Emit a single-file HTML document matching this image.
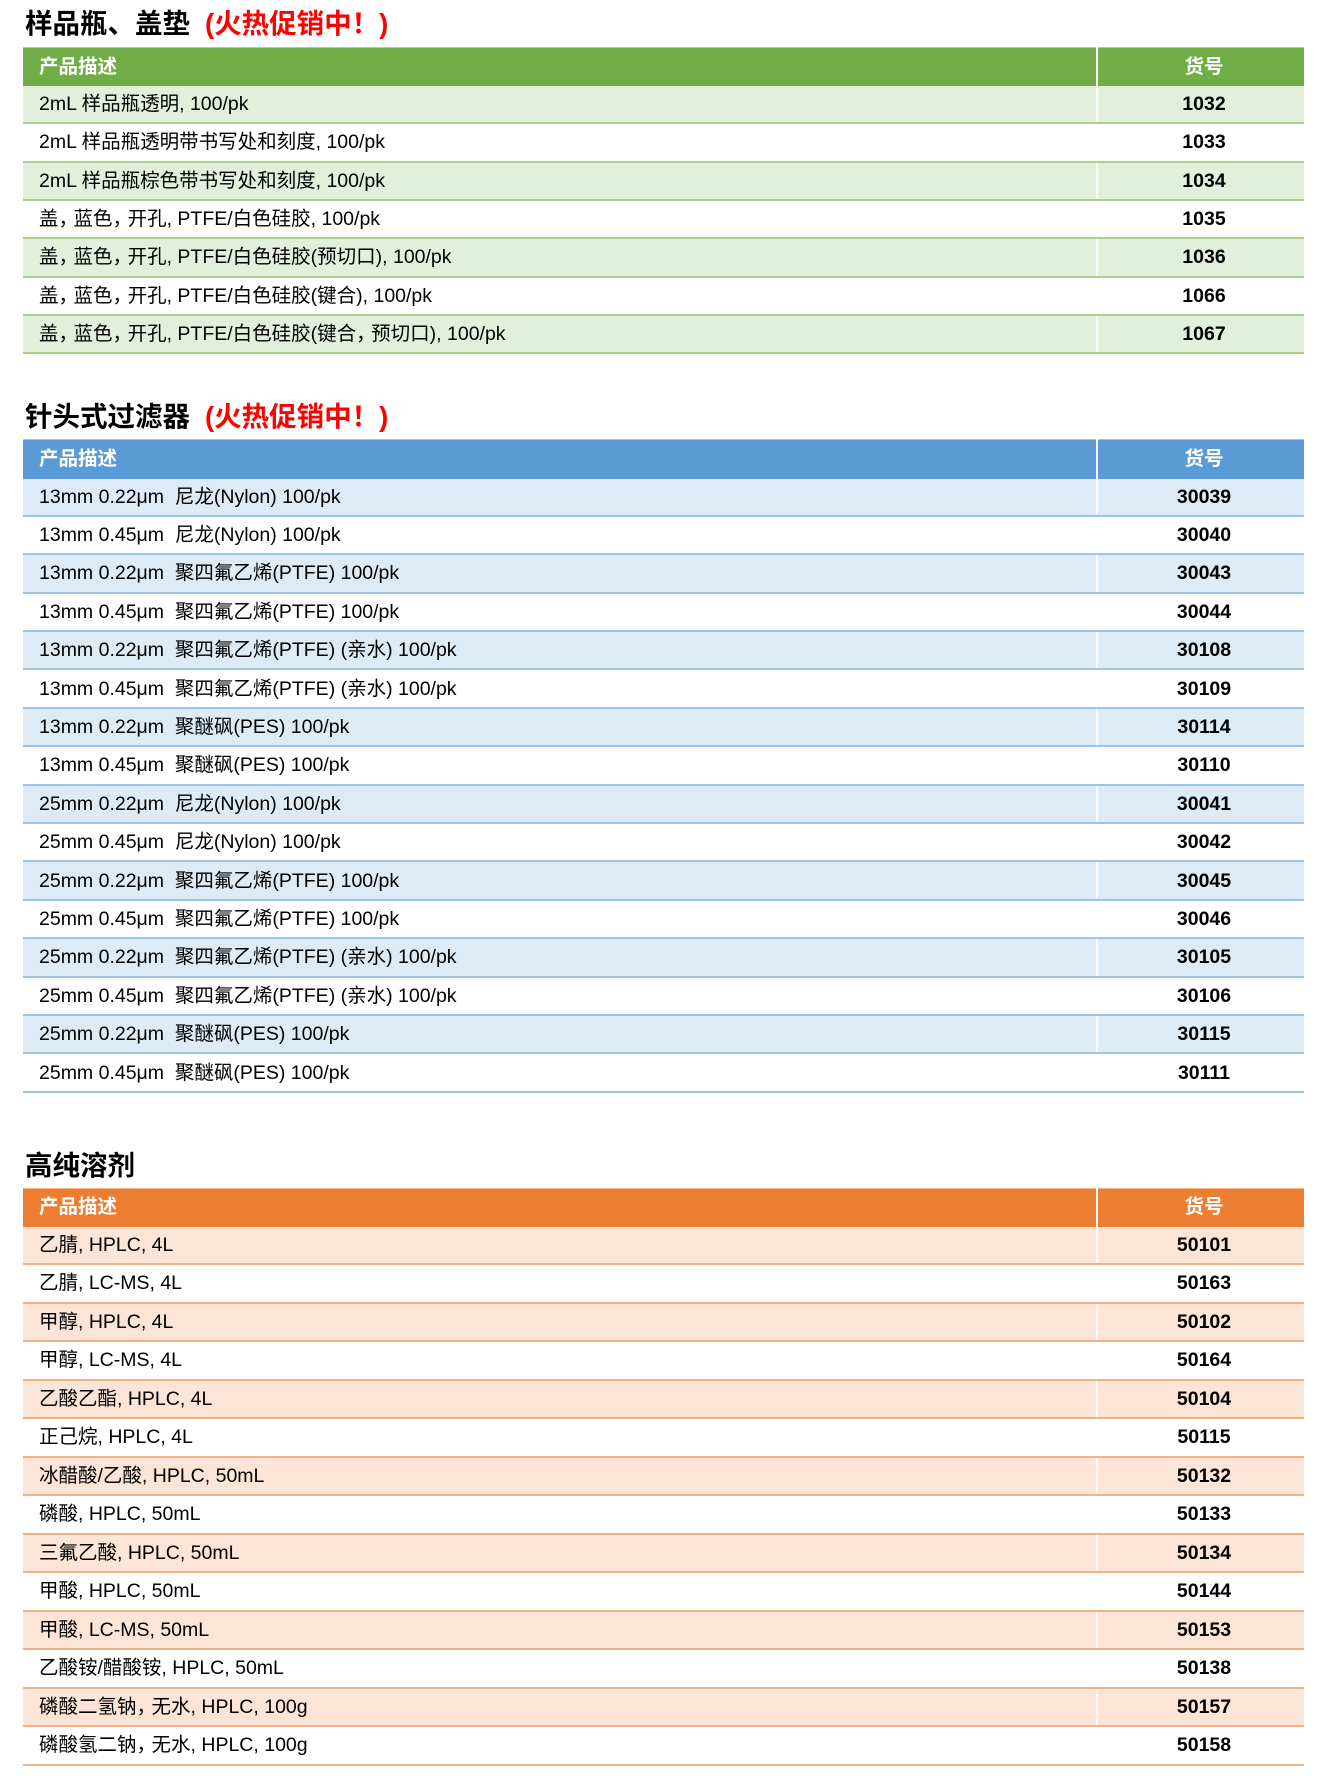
<!DOCTYPE html>
<html>
<head>
<meta charset="utf-8">
<style>
  html,body{margin:0;padding:0;background:#fff;}
  body{width:1320px;height:1781px;position:relative;overflow:hidden;
    font-family:"Liberation Sans","Noto Sans CJK SC",sans-serif;color:#000;}
  .title{position:absolute;left:25px;font-size:27.5px;line-height:30px;white-space:nowrap;font-weight:bold;}
  .title .red{color:#ff0000;font-weight:bold;margin-left:15px;}
  .tbl{position:absolute;left:23px;width:1281px;}
  .row{display:flex;box-sizing:border-box;font-size:19.5px;line-height:22px;}
  .row .d{flex:0 0 1073px;box-sizing:border-box;padding-left:16px;display:flex;align-items:center;white-space:pre;line-height:22px;}
  .row .n{flex:0 0 208px;box-sizing:border-box;border-left:2px solid #fff;display:flex;align-items:center;justify-content:center;padding-left:6px;font-weight:bold;line-height:22px;}
  .c{letter-spacing:-4.5px;}
  .hdr{color:#fff;font-weight:bold;}
  .hdr .d{font-weight:bold;}
  /* green */
  .g .hdr{background:#70ad47;box-shadow:inset 0 1px 0 #a9d08e;}
  .g .row.b{border-bottom:2px solid #a9d08e;}
  .g .row.b:nth-child(even){background:#e2efda;}
  /* blue */
  .bl .hdr{background:#5b9bd5;box-shadow:inset 0 1px 0 #9dc3e6;}
  .bl .row.b{border-bottom:2px solid #9dc3e6;}
  .bl .row.b:nth-child(even){background:#ddebf7;}
  /* orange */
  .o .hdr{background:#ed7d31;box-shadow:inset 0 1px 0 #f4b183;}
  .o .row.b{border-bottom:2px solid #f4b183;}
  .o .row.b:nth-child(even){background:#fce4d6;}
  .g .row.b{height:38.33px;}
  .bl .row.b{height:38.4px;}
  .o .row.b{height:38.5px;}
</style>
</head>
<body>

<div class="title" style="top:9px;">样品瓶、盖垫<span class="red">(火热促销中！)</span></div>
<div class="tbl g" style="top:47px;">
  <div class="row hdr" style="height:39px;"><div class="d">产品描述</div><div class="n">货号</div></div>
  <div class="row b"><div class="d">2mL 样品瓶透明, 100/pk</div><div class="n">1032</div></div>
  <div class="row b"><div class="d">2mL 样品瓶透明带书写处和刻度, 100/pk</div><div class="n">1033</div></div>
  <div class="row b"><div class="d">2mL 样品瓶棕色带书写处和刻度, 100/pk</div><div class="n">1034</div></div>
  <div class="row b"><div class="d">盖<span class="c">，</span>蓝色<span class="c">，</span>开孔, PTFE/白色硅胶, 100/pk</div><div class="n">1035</div></div>
  <div class="row b"><div class="d">盖<span class="c">，</span>蓝色<span class="c">，</span>开孔, PTFE/白色硅胶(预切口), 100/pk</div><div class="n">1036</div></div>
  <div class="row b"><div class="d">盖<span class="c">，</span>蓝色<span class="c">，</span>开孔, PTFE/白色硅胶(键合), 100/pk</div><div class="n">1066</div></div>
  <div class="row b"><div class="d">盖<span class="c">，</span>蓝色<span class="c">，</span>开孔, PTFE/白色硅胶(键合<span class="c">，</span>预切口), 100/pk</div><div class="n">1067</div></div>
</div>

<div class="title" style="top:402px;">针头式过滤器<span class="red">(火热促销中！)</span></div>
<div class="tbl bl" style="top:439px;">
  <div class="row hdr" style="height:39.5px;"><div class="d">产品描述</div><div class="n">货号</div></div>
  <div class="row b"><div class="d">13mm 0.22μm  尼龙(Nylon) 100/pk</div><div class="n">30039</div></div>
  <div class="row b"><div class="d">13mm 0.45μm  尼龙(Nylon) 100/pk</div><div class="n">30040</div></div>
  <div class="row b"><div class="d">13mm 0.22μm  聚四氟乙烯(PTFE) 100/pk</div><div class="n">30043</div></div>
  <div class="row b"><div class="d">13mm 0.45μm  聚四氟乙烯(PTFE) 100/pk</div><div class="n">30044</div></div>
  <div class="row b"><div class="d">13mm 0.22μm  聚四氟乙烯(PTFE) (亲水) 100/pk</div><div class="n">30108</div></div>
  <div class="row b"><div class="d">13mm 0.45μm  聚四氟乙烯(PTFE) (亲水) 100/pk</div><div class="n">30109</div></div>
  <div class="row b"><div class="d">13mm 0.22μm  聚醚砜(PES) 100/pk</div><div class="n">30114</div></div>
  <div class="row b"><div class="d">13mm 0.45μm  聚醚砜(PES) 100/pk</div><div class="n">30110</div></div>
  <div class="row b"><div class="d">25mm 0.22μm  尼龙(Nylon) 100/pk</div><div class="n">30041</div></div>
  <div class="row b"><div class="d">25mm 0.45μm  尼龙(Nylon) 100/pk</div><div class="n">30042</div></div>
  <div class="row b"><div class="d">25mm 0.22μm  聚四氟乙烯(PTFE) 100/pk</div><div class="n">30045</div></div>
  <div class="row b"><div class="d">25mm 0.45μm  聚四氟乙烯(PTFE) 100/pk</div><div class="n">30046</div></div>
  <div class="row b"><div class="d">25mm 0.22μm  聚四氟乙烯(PTFE) (亲水) 100/pk</div><div class="n">30105</div></div>
  <div class="row b"><div class="d">25mm 0.45μm  聚四氟乙烯(PTFE) (亲水) 100/pk</div><div class="n">30106</div></div>
  <div class="row b"><div class="d">25mm 0.22μm  聚醚砜(PES) 100/pk</div><div class="n">30115</div></div>
  <div class="row b"><div class="d">25mm 0.45μm  聚醚砜(PES) 100/pk</div><div class="n">30111</div></div>
</div>

<div class="title" style="top:1151px;">高纯溶剂</div>
<div class="tbl o" style="top:1188px;">
  <div class="row hdr" style="height:38.7px;"><div class="d">产品描述</div><div class="n">货号</div></div>
  <div class="row b"><div class="d">乙腈, HPLC, 4L</div><div class="n">50101</div></div>
  <div class="row b"><div class="d">乙腈, LC-MS, 4L</div><div class="n">50163</div></div>
  <div class="row b"><div class="d">甲醇, HPLC, 4L</div><div class="n">50102</div></div>
  <div class="row b"><div class="d">甲醇, LC-MS, 4L</div><div class="n">50164</div></div>
  <div class="row b"><div class="d">乙酸乙酯, HPLC, 4L</div><div class="n">50104</div></div>
  <div class="row b"><div class="d">正己烷, HPLC, 4L</div><div class="n">50115</div></div>
  <div class="row b"><div class="d">冰醋酸/乙酸, HPLC, 50mL</div><div class="n">50132</div></div>
  <div class="row b"><div class="d">磷酸, HPLC, 50mL</div><div class="n">50133</div></div>
  <div class="row b"><div class="d">三氟乙酸, HPLC, 50mL</div><div class="n">50134</div></div>
  <div class="row b"><div class="d">甲酸, HPLC, 50mL</div><div class="n">50144</div></div>
  <div class="row b"><div class="d">甲酸, LC-MS, 50mL</div><div class="n">50153</div></div>
  <div class="row b"><div class="d">乙酸铵/醋酸铵, HPLC, 50mL</div><div class="n">50138</div></div>
  <div class="row b"><div class="d">磷酸二氢钠<span class="c">，</span>无水, HPLC, 100g</div><div class="n">50157</div></div>
  <div class="row b"><div class="d">磷酸氢二钠<span class="c">，</span>无水, HPLC, 100g</div><div class="n">50158</div></div>
</div>

</body>
</html>
